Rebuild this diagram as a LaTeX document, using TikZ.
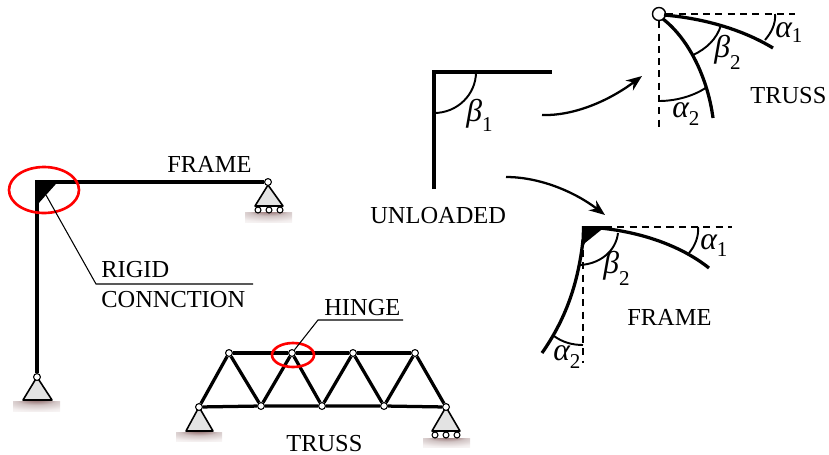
\documentclass[tikz,border=0pt]{standalone}
\usepackage{fontspec}
\setmainfont{Liberation Serif}
\usetikzlibrary{arrows.meta}
\definecolor{basegray}{gray}{0.89}
\pgfdeclareradialshading{groundshade}{\pgfpoint{0bp}{42bp}}{rgb(0bp)=(0.45,0.28,0.28); rgb(8bp)=(0.6,0.47,0.47); rgb(20bp)=(0.82,0.77,0.77); rgb(35bp)=(0.95,0.93,0.93); rgb(50bp)=(1,1,1)}
\tikzset{
    lab/.style={anchor=base west,inner sep=0pt,font=\fontsize{13.9}{14}\selectfont},
    anglelab/.style={anchor=base west,inner sep=0pt},
    beam/.style={line width=1.85pt},
    thinline/.style={line width=0.6pt},
    arcline/.style={line width=1.1pt},
    dashline/.style={line width=0.9pt,dash pattern=on 4pt off 3pt},
    flow/.style={line width=1.3pt,-{Stealth[length=9pt,width=7pt]}},
    redring/.style={draw=red,line width=1.5pt},
    hingept/.style={circle,draw,fill=white,line width=0.6pt,inner sep=0pt,minimum size=3.9pt},
    roller/.style={circle,draw,fill=white,line width=0.6pt,inner sep=0pt,minimum size=3.4pt},
    basetri/.style={draw,fill=basegray,line width=0.9pt,line join=round},
    ground/.style={shading=groundshade},
}
\newcommand{\anglename}[3]{{\fontsize{18}{18}\selectfont\itshape #1}\raisebox{-#3pt}{\fontsize{12}{12}\selectfont #2}}
\begin{document}
\begin{tikzpicture}[x=0.02cm,y=-0.02cm]
    \useasboundingbox (0,0) rectangle (829,454);
    % ground shadows
    \shade[ground] (245,212) rectangle (292,222);
    \shade[ground] (13,401) rectangle (60,411);
    \shade[ground] (176,432) rectangle (222,441);
    \shade[ground] (423,438) rectangle (470,447);
    % supports
    \draw[basetri] (268,185) -- (255,206) -- (283,206) -- cycle;
    \draw[basetri] (37,377) -- (23,400) -- (52,400) -- cycle;
    \draw[basetri] (199,407) -- (186,431) -- (213,431) -- cycle;
    \draw[basetri] (446,407) -- (432,431) -- (460,431) -- cycle;
    \foreach \rx/\ry [count=\i] in {258/210,269/210,280/210,435/435,446/435,457/435}
        \node[roller] (r\i) at (\rx,\ry) {};
    % frame
    \node[hingept] (fa) at (37,377) {};
    \node[hingept] (fb) at (268,182) {};
    \coordinate (fc) at (37,182);
    \draw[beam] (fa) -- (fc) -- (fb);
    \fill (35.5,180.5) -- (59,180.5) -- (38,204) -- (35.5,209) -- cycle;
    \draw[redring] (44,190) ellipse (35 and 23);
    \coordinate (rigidtip) at (46,195);
    \coordinate (rigidbend) at (96,284);
    \coordinate (rigidend) at (253,284);
    \draw[thinline] (rigidtip) -- (rigidbend) -- (rigidend);
    \node[lab] (framelab) at (167,172) {FRAME};
    \node[lab] (rigidlab) at (101,277) {RIGID};
    \node[lab] (connlab) at (101,307) {CONNCTION};
    % truss
    \foreach \name/\tx/\ty in {t1/229/353,t2/292/353,t3/353/353,t4/415/353,b1/199/407,b2/261/406,b3/322/406,b4/384/406,b5/446/407}
        \node[hingept] (\name) at (\tx,\ty) {};
    \draw[beam] (b1) -- (t1) -- (b2) -- (t2) -- (b3) -- (t3) -- (b4) -- (t4) -- (b5);
    \draw[beam] (t1) -- (t2) -- (t3) -- (t4);
    \draw[beam] (b1) -- (b2) -- (b3) -- (b4) -- (b5);
    \draw[redring] (293,355) ellipse (21 and 12);
    \coordinate (hingebend) at (318,320);
    \coordinate (hingeend) at (403,320);
    \draw[thinline] (t2) -- (hingebend) -- (hingeend);
    \node[lab] (hingelab) at (324,315) {HINGE};
    \node[lab] (trusslab) at (286,451) {TRUSS};
    % unloaded
    \coordinate (ua) at (434,189);
    \coordinate (ub) at (434,72);
    \coordinate (uc) at (552,72);
    \draw[beam,line join=miter] (ua) -- (ub) -- (uc);
    \draw[arcline] (476,72) arc (0:-90:42 and -41);
    \node[anglelab] (betaone) at (466,121) {\anglename{β}{1}{6}};
    \node[lab] (unloadlab) at (370,223) {UNLOADED};
    \coordinate (upstart) at (542,115);
    \coordinate (upend) at (642,76);
    \coordinate (downstart) at (506,177);
    \coordinate (downend) at (605,215);
    \draw[flow] (upstart) .. controls (575,116) and (610,100) .. (upend);
    \draw[flow] (downstart) .. controls (540,177) and (575,192) .. (downend);
    % deformed truss
    \node[circle,draw,fill=white,line width=0.8pt,inner sep=0pt,minimum size=7.4pt] (tp) at (659,14) {};
    \coordinate (tph) at (795,14);
    \coordinate (tpv) at (659,130);
    \draw[dashline] (tp) -- (tph);
    \draw[dashline] (tp) -- (tpv);
    \draw[beam] (664,15) .. controls (700,18) and (740,28) .. (773,48);
    \draw[beam] (663,19) .. controls (690,40) and (708,80) .. (713,118);
    \draw[arcline] (775,14) .. controls (776,24) and (771,33) .. (765,40);
    \draw[arcline] (721,25) .. controls (717,39) and (706,49) .. (693,55);
    \draw[arcline] (707,87) .. controls (694,96) and (676,101) .. (659,101);
    \node[anglelab] (alphaone) at (775,37) {\anglename{α}{1}{3.4}};
    \node[anglelab] (betatwo) at (714,57) {\anglename{β}{2}{7}};
    \node[anglelab] (alphatwo) at (672,117) {\anglename{α}{2}{5}};
    \node[lab] (trussright) at (750,103) {TRUSS};
    % deformed frame
    \coordinate (fph) at (732,227);
    \coordinate (fpa) at (605,227);
    \coordinate (fpb) at (583,250);
    \coordinate (fpv) at (583,363);
    \draw[dashline] (fpa) -- (fph);
    \draw[dashline] (fpb) -- (fpv);
    \draw[beam] (600,228) .. controls (640,232) and (680,245) .. (709,268);
    \draw[beam] (583,240) .. controls (578,285) and (565,320) .. (542,353);
    \fill (582,226) -- (606,226) -- (585,243) -- (581,252) -- cycle;
    \draw[arcline] (698,227) .. controls (699,236) and (695,246) .. (689,253);
    \draw[arcline] (618,233) .. controls (616,251) and (600,264) .. (580,265);
    \draw[arcline] (554,336) .. controls (562,342) and (572,345) .. (583,345);
    \node[anglelab] (alphaonef) at (700,249) {\anglename{α}{1}{4.5}};
    \node[anglelab] (betatwof) at (603,273) {\anglename{β}{2}{7}};
    \node[anglelab] (alphatwof) at (553,360) {\anglename{α}{2}{5}};
    \node[lab] (frameright) at (627,325) {FRAME};
\end{tikzpicture}
\end{document}
